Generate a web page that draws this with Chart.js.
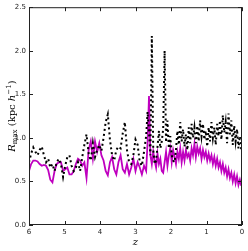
<!DOCTYPE html>
<html lang="en">
<head>
    <meta charset="UTF-8">
    <title>Rmax vs z</title>
    <style>
        html, body { margin: 0; padding: 0; background: #fff; }
        #wrap { width: 248px; height: 251px; }
    </style>
</head>
<body>
<script src="https://cdn.jsdelivr.net/npm/chart.js@4.4.0/dist/chart.umd.min.js"></script>
<div id="wrap"><canvas id="rmax-chart" width="248" height="251"></canvas></div>

<script>
    // redshift of each snapshot
    var zValues = [
        6.00, 5.94, 5.88, 5.82, 5.76, 5.70, 5.64, 5.58, 5.52, 5.46,
        5.40, 5.34, 5.28, 5.22, 5.16, 5.10, 5.04, 4.98, 4.92, 4.86,
        4.80, 4.74, 4.68, 4.62, 4.56, 4.50, 4.44, 4.38, 4.32, 4.26,
        4.20, 4.14, 4.08, 4.02, 3.96, 3.90, 3.84, 3.78, 3.72, 3.66,
        3.60, 3.54, 3.48, 3.42, 3.36, 3.30, 3.24, 3.18, 3.12, 3.06,
        3.00, 2.94, 2.88, 2.82, 2.76, 2.70,
        2.66, 2.62, 2.58, 2.54, 2.50, 2.46, 2.42, 2.38, 2.34, 2.30,
        2.26, 2.22, 2.18, 2.14, 2.10, 2.06, 2.02, 1.98, 1.94, 1.90,
        1.86, 1.82, 1.78, 1.74, 1.70, 1.66, 1.62, 1.58, 1.54, 1.50,
        1.46, 1.42, 1.38, 1.34, 1.30, 1.26, 1.22, 1.18, 1.14, 1.10,
        1.06, 1.02, 0.98, 0.94, 0.90, 0.86, 0.82, 0.78, 0.74, 0.70,
        0.66, 0.62, 0.58, 0.54, 0.50, 0.46, 0.42, 0.38, 0.34, 0.30,
        0.26, 0.22, 0.18, 0.14, 0.10, 0.06, 0.02
    ];
    // black dotted curve
    var rmaxDotted = [
        0.72, 0.82, 0.89, 0.84, 0.80, 0.86, 0.90, 0.80, 0.72, 0.76,
        0.66, 0.70, 0.62, 0.72, 0.76, 0.70, 0.55, 0.68, 0.78, 0.80,
        0.68, 0.62, 0.66, 0.72, 0.62, 0.78, 0.92, 1.04, 0.82, 0.74,
        0.94, 0.78, 0.86, 0.92, 0.85, 1.00, 1.18, 1.27, 0.98, 0.80,
        0.74, 0.86, 0.90, 0.88, 1.05, 1.18, 0.86, 0.72, 0.70, 0.80,
        0.98, 0.92, 0.72, 0.68, 0.84, 1.02,
        1.30, 1.05, 0.80, 2.17, 0.86, 0.70, 0.74, 0.90, 1.08, 0.88,
        0.96, 1.10, 2.00, 0.95, 1.20, 0.88, 1.02, 0.80, 0.74, 0.72,
        0.86, 1.08, 0.92, 1.18, 0.96, 1.10, 0.90, 1.04, 0.86, 1.12,
        0.94, 1.16, 1.00, 1.12, 0.94, 1.14, 0.96, 1.20, 1.02, 1.16,
        0.98, 1.08, 0.90, 1.12, 0.96, 1.18, 1.00, 1.12, 0.92, 1.16,
        1.02, 1.20, 0.98, 1.26, 1.06, 1.18, 0.94, 1.28, 1.04, 1.20,
        0.92, 1.14, 0.96, 1.10, 0.88, 1.02, 0.86
    ];
    // magenta solid curve
    var rmaxSolid = [
        0.62, 0.70, 0.74, 0.74, 0.73, 0.70, 0.68, 0.69, 0.68, 0.63,
        0.52, 0.49, 0.62, 0.70, 0.72, 0.72, 0.62, 0.64, 0.66, 0.58,
        0.58, 0.62, 0.70, 0.76, 0.74, 0.68, 0.72, 0.54, 0.86, 0.96,
        0.76, 0.96, 0.84, 0.94, 0.80, 0.74, 0.62, 0.57, 0.72, 0.78,
        0.64, 0.58, 0.72, 0.80, 0.64, 0.60, 0.70, 0.58, 0.66, 0.76,
        0.62, 0.72, 0.66, 0.58, 0.68, 0.62,
        0.95, 1.48, 0.80, 0.70, 0.84, 0.74, 0.66, 0.82, 0.70, 0.76,
        0.62, 0.60, 0.72, 0.84, 0.68, 0.80, 0.88, 0.72, 0.86, 0.78,
        0.70, 0.84, 0.76, 0.88, 0.72, 0.84, 0.74, 0.86, 0.78, 0.82,
        0.74, 0.88, 0.80, 0.93, 0.78, 0.90, 0.82, 0.88, 0.76, 0.86,
        0.78, 0.84, 0.74, 0.82, 0.74, 0.80, 0.70, 0.78, 0.68, 0.76,
        0.66, 0.72, 0.62, 0.70, 0.60, 0.66, 0.56, 0.64, 0.54, 0.60,
        0.50, 0.58, 0.48, 0.56, 0.46, 0.52, 0.45
    ];
    var xTicks = [6, 5, 4, 3, 2, 1, 0];
    var yTicks = [0.0, 0.5, 1.0, 1.5, 2.0, 2.5];

    function toPoints(xs, ys) {
        var pts = [];
        for (var i = 0; i < xs.length; i++) {
            pts.push({x: xs[i], y: ys[i]});
        }
        return pts;
    }

    var axisColor = '#222';
    var tickFont = {family: 'DejaVu Sans', size: 7};

    // inward ticks on all four sides, the frame and the y label with sub/superscripts
    var framePlugin = {
        id: 'frame',
        afterDraw: function (chart) {
            var ctx = chart.ctx;
            var a = chart.chartArea;
            var sx = chart.scales.x, sy = chart.scales.y;
            ctx.save();
            ctx.strokeStyle = axisColor;
            ctx.lineWidth = 1;
            ctx.strokeRect(a.left + 0.5, a.top + 0.5, a.right - a.left - 1, a.bottom - a.top - 1);
            ctx.beginPath();
            xTicks.forEach(function (v) {
                var px = Math.round(sx.getPixelForValue(v)) + 0.5;
                ctx.moveTo(px, a.bottom); ctx.lineTo(px, a.bottom - 4);
                ctx.moveTo(px, a.top); ctx.lineTo(px, a.top + 4);
            });
            yTicks.forEach(function (v) {
                var py = Math.round(sy.getPixelForValue(v)) + 0.5;
                ctx.moveTo(a.left, py); ctx.lineTo(a.left + 4, py);
                ctx.moveTo(a.right, py); ctx.lineTo(a.right - 4, py);
            });
            ctx.stroke();

            // y axis label: R_max (kpc h^-1)
            var serif = '"DejaVu Serif", serif';
            var parts = [
                {t: 'R', f: 'italic 10px ' + serif, dy: 0},
                {t: 'max', f: '7px ' + serif, dy: 2.5},
                {t: ' (kpc ', f: '10px ' + serif, dy: 0},
                {t: 'h', f: 'italic 10px ' + serif, dy: 0},
                {t: '\u22121', f: '7px ' + serif, dy: -4},
                {t: ')', f: '10px ' + serif, dy: 0}
            ];
            var total = 0;
            parts.forEach(function (p) { ctx.font = p.f; p.w = ctx.measureText(p.t).width; total += p.w; });
            ctx.translate(11, (a.top + a.bottom) / 2);
            ctx.rotate(-Math.PI / 2);
            ctx.fillStyle = '#000';
            ctx.textBaseline = 'alphabetic';
            var cx = -total / 2;
            parts.forEach(function (p) {
                ctx.font = p.f;
                ctx.fillText(p.t, cx, 3.5 + p.dy);
                cx += p.w;
            });
            ctx.restore();
        }
    };

    new Chart(document.getElementById('rmax-chart'), {
        type: 'line',
        data: {
            datasets: [
                {
                    label: 'dotted',
                    data: toPoints(zValues, rmaxDotted),
                    borderColor: '#000',
                    borderWidth: 2,
                    borderDash: [2, 3],
                    pointRadius: 0,
                    fill: false,
                    tension: 0,
                    order: 0
                },
                {
                    label: 'solid',
                    data: toPoints(zValues, rmaxSolid),
                    borderColor: '#bf00bf',
                    borderWidth: 1.8,
                    pointRadius: 0,
                    fill: false,
                    tension: 0,
                    order: 1
                }
            ]
        },
        options: {
            responsive: false,
            animation: false,
            events: [],
            layout: {padding: {left: 0, right: 6, top: 5, bottom: 0}},
            plugins: {
                legend: {display: false},
                tooltip: {enabled: false}
            },
            scales: {
                x: {
                    type: 'linear',
                    reverse: true,
                    min: 0,
                    max: 6,
                    afterFit: function (s) { s.height = 26; },
                    afterBuildTicks: function (s) { s.ticks = xTicks.map(function (v) { return {value: v}; }); },
                    ticks: {font: tickFont, color: axisColor, padding: 3, maxRotation: 0,
                        callback: function (v) { return String(v); }},
                    grid: {display: false, drawTicks: false},
                    border: {display: false},
                    title: {display: true, text: 'z', color: '#000',
                        font: {family: 'DejaVu Serif', size: 10, style: 'italic'}, padding: {top: 0, bottom: 3}}
                },
                y: {
                    min: 0,
                    max: 2.5,
                    afterFit: function (s) { s.width = 29; },
                    afterBuildTicks: function (s) { s.ticks = yTicks.map(function (v) { return {value: v}; }); },
                    ticks: {font: tickFont, color: axisColor, padding: 3,
                        callback: function (v) { return v.toFixed(1); }},
                    grid: {display: false, drawTicks: false},
                    border: {display: false}
                }
            }
        },
        plugins: [framePlugin]
    });
</script>
</body>
</html>
